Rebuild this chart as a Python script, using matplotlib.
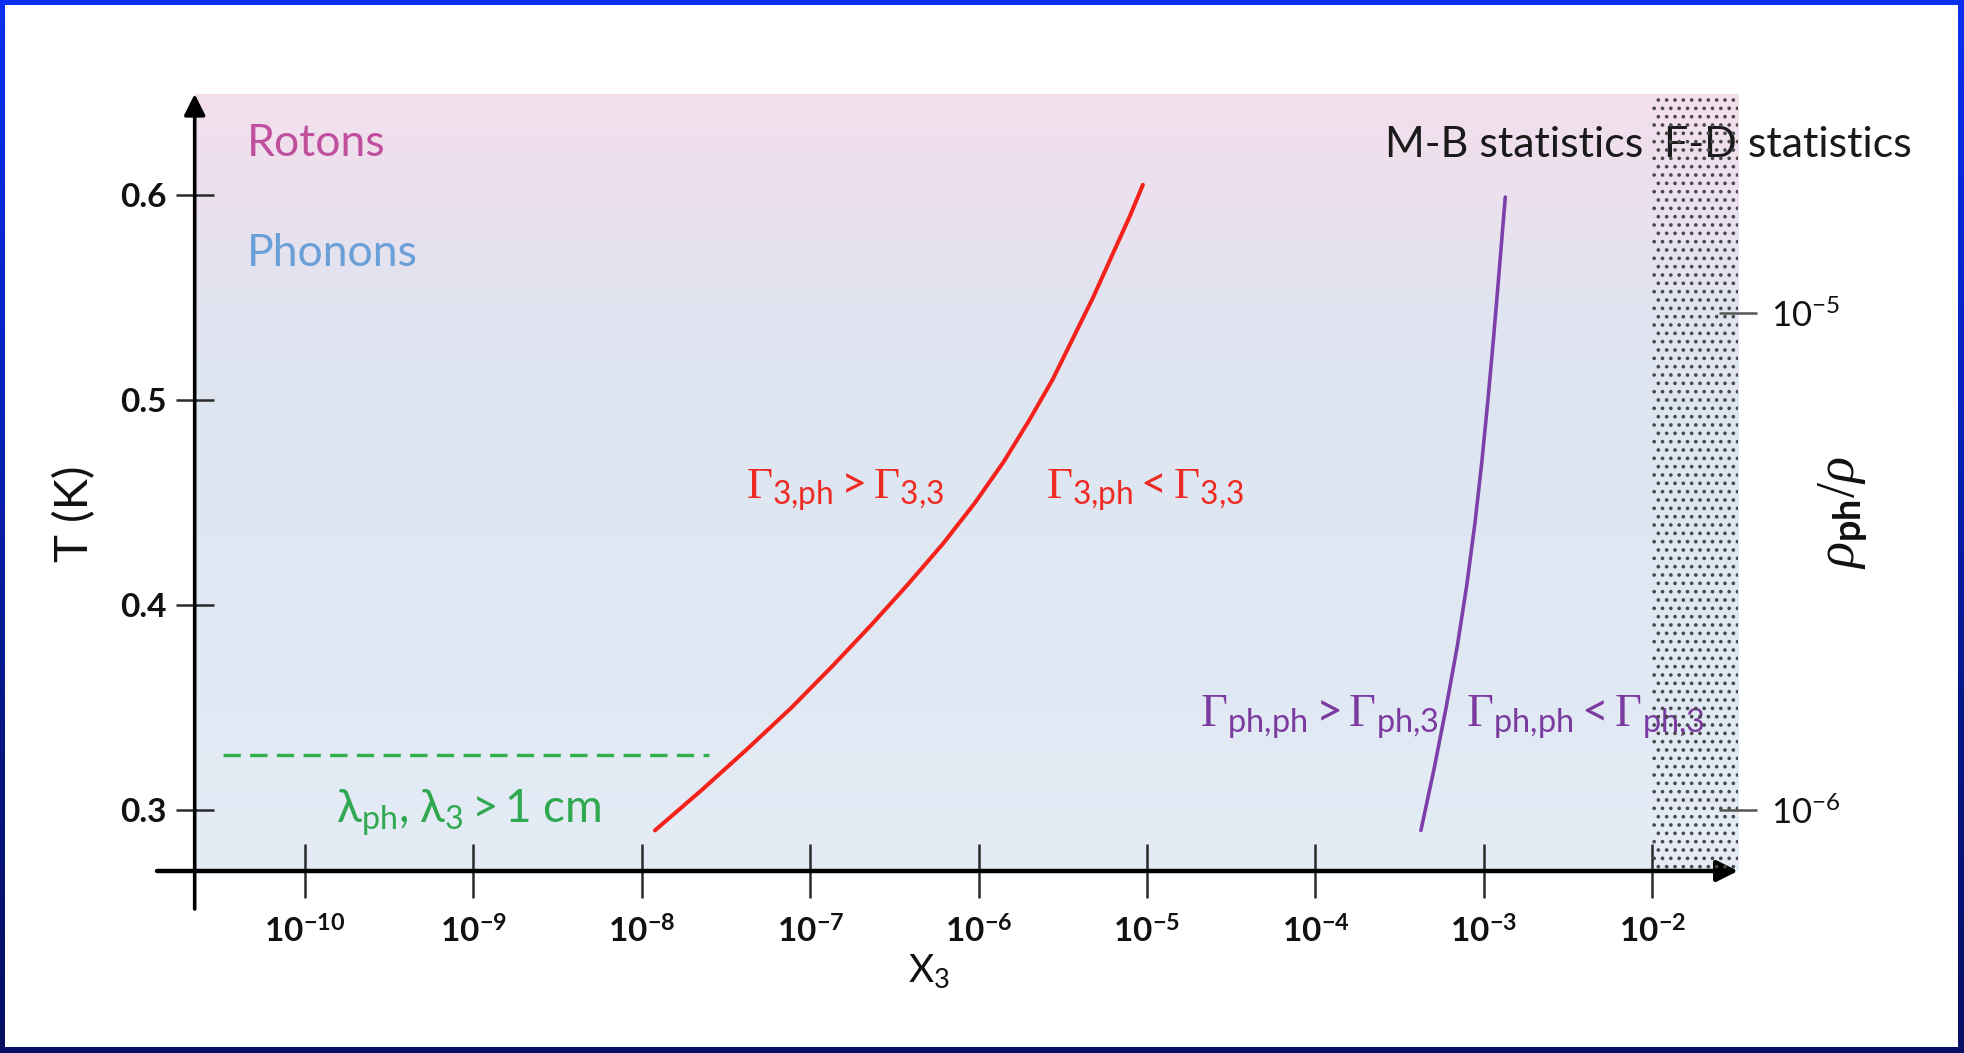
import numpy as np
import matplotlib
matplotlib.use("Agg")
import matplotlib.pyplot as plt
from matplotlib.colors import LinearSegmentedColormap
from matplotlib.patches import Rectangle
from matplotlib.ticker import NullLocator

plt.rcParams['font.family'] = ['Lato', 'DejaVu Sans']
plt.rcParams['mathtext.fontset'] = 'custom'
plt.rcParams['mathtext.rm'] = 'Liberation Serif'
plt.rcParams['mathtext.it'] = 'Liberation Serif:italic'
plt.rcParams['mathtext.bf'] = 'Lato:bold'
plt.rcParams['mathtext.sf'] = 'Lato'
plt.rcParams['mathtext.fallback'] = 'stixsans'
plt.rcParams['hatch.linewidth'] = 1.4

# ---- axis ticks ----
x3_ticks = [1e-10, 1e-9, 1e-8, 1e-7, 1e-6, 1e-5, 1e-4, 1e-3, 1e-2]
x3_ticklabels = [r'$\mathbf{10^{-10}}$', r'$\mathbf{10^{-9}}$', r'$\mathbf{10^{-8}}$',
                 r'$\mathbf{10^{-7}}$', r'$\mathbf{10^{-6}}$', r'$\mathbf{10^{-5}}$',
                 r'$\mathbf{10^{-4}}$', r'$\mathbf{10^{-3}}$', r'$\mathbf{10^{-2}}$']
T_ticks = [0.3, 0.4, 0.5, 0.6]
T_ticklabels = ['0.3', '0.4', '0.5', '0.6']
rho_ticks = [1e-6, 1e-5]
rho_ticklabels = [r'$\mathsf{10^{-6}}$', r'$\mathsf{10^{-5}}$']

# ---- boundary Gamma_3,ph = Gamma_3,3 ----
red_x3 = [1.197e-8, 2.291e-8, 4.266e-8, 7.762e-8, 1.349e-7, 2.291e-7, 3.802e-7,
          6.166e-7, 9.55e-7, 1.413e-6, 1.995e-6, 2.754e-6, 3.631e-6, 4.786e-6,
          6.166e-6, 7.943e-6, 9.46e-6]
red_T = [0.290, 0.310, 0.330, 0.350, 0.370, 0.390, 0.410, 0.430, 0.450, 0.470,
         0.490, 0.510, 0.530, 0.550, 0.570, 0.590, 0.605]

# ---- boundary Gamma_ph,ph = Gamma_ph,3 ----
purple_x3 = [4.236e-4, 5.07e-4, 5.98e-4, 6.97e-4, 7.94e-4, 8.87e-4, 9.75e-4,
             1.059e-3, 1.143e-3, 1.227e-3, 1.315e-3, 1.343e-3]
purple_T = [0.290, 0.320, 0.350, 0.380, 0.410, 0.440, 0.470, 0.500, 0.530,
            0.560, 0.590, 0.599]

# ---- mean free path limit ----
green_x3 = [3.26e-11, 2.51e-8]
green_T = [0.327, 0.327]

# ---- Fermi-Dirac region ----
fd_x3_start = 1e-2

XLIM = (10 ** -10.655, 10 ** -1.49)
YLIM = (0.2702, 0.6493)
RHOLIM = (10 ** -6.1227, 10 ** -4.5594)

W, H = 1965, 1053
fig = plt.figure(figsize=(W / 100, H / 100), dpi=100)


def fx(x):
    return x / W


def fy(y):
    return 1 - y / H


# blue frame
frame = fig.add_axes([0, 0, 1, 1], zorder=-3)
frame.axis('off')
frame_cmap = LinearSegmentedColormap.from_list(
    'frame', ['#0a30f2', '#0624c4', '#061888', '#060f62'])
frame.imshow(np.linspace(0, 1, 256).reshape(-1, 1), cmap=frame_cmap,
             aspect='auto', extent=[0, 1, 0, 1], origin='upper')
frame.add_patch(Rectangle((5 / W, 6 / H), (W - 12) / W, (H - 11) / H,
                          facecolor='white', edgecolor='none'))
frame.set_xlim(0, 1)
frame.set_ylim(0, 1)

pos = [fx(194.7), fy(871), fx(1738) - fx(194.7), (871 - 94) / H]

# shaded plot background
bg = fig.add_axes(pos, zorder=-2)
bg.axis('off')
bg_cmap = LinearSegmentedColormap.from_list(
    'bg', [(0.0, '#f3dfeb'), (0.12, '#ece0ee'), (0.28, '#e0e4f0'),
           (0.45, '#dde6f1'), (0.7, '#dfe8f3'), (1.0, '#e5ecf6')])
bg.imshow(np.linspace(0, 1, 256).reshape(-1, 1), cmap=bg_cmap,
          aspect='auto', extent=[0, 1, 0, 1], origin='upper')
bg.set_xlim(0, 1)
bg.set_ylim(0, 1)

ax = fig.add_axes(pos, zorder=0)
ax.patch.set_visible(False)
ax.set_xscale('log')
ax.set_xlim(*XLIM)
ax.set_ylim(*YLIM)
for s in ax.spines.values():
    s.set_visible(False)

ax.set_xticks(x3_ticks)
ax.set_xticklabels(x3_ticklabels)
ax.xaxis.set_minor_locator(NullLocator())
ax.set_yticks(T_ticks)
ax.set_yticklabels(T_ticklabels, fontweight='bold')
ax.tick_params(axis='x', direction='inout', length=39, width=1.8,
               color='#2a2a2a', pad=13, labelsize=24, labelcolor='#111111')
ax.tick_params(axis='y', direction='inout', length=28, width=1.8,
               color='#2a2a2a', pad=6, labelsize=24, labelcolor='#111111')

# axis arrows
arrow_kw = dict(arrowstyle='-|>', color='black', mutation_scale=32,
                shrinkA=0, shrinkB=0)
ax.annotate('', xy=(0, 1.0), xycoords='axes fraction',
            xytext=(0, -0.0489), textcoords='axes fraction',
            arrowprops=dict(lw=2.6, **arrow_kw), annotation_clip=False)
ax.annotate('', xy=(1.0, 0), xycoords='axes fraction',
            xytext=(-0.0244, 0), textcoords='axes fraction',
            arrowprops=dict(lw=3.2, **arrow_kw), annotation_clip=False)

# curves
ax.plot(red_x3, red_T, color='#f4221b', lw=2.9, solid_capstyle='round',
        solid_joinstyle='round', zorder=3)
ax.plot(purple_x3, purple_T, color='#7d3fa9', lw=2.6, solid_capstyle='round',
        solid_joinstyle='round', zorder=3)
ax.plot(green_x3, green_T, color='#2fb04c', lw=2.4, ls=(0, (5.2, 2.8)), zorder=3)

# Fermi-Dirac hatched band
ax.axvspan(fd_x3_start, XLIM[1], facecolor='none', edgecolor='#484848',
           hatch='..', linewidth=0, zorder=5)

tf = fig.transFigure
ax.text(fx(247), fy(156), 'Rotons', transform=tf, fontsize=32,
        color='#c0509e', ha='left', va='baseline')
ax.text(fx(247), fy(266), 'Phonons', transform=tf, fontsize=32,
        color='#6a9fd8', ha='left', va='baseline')
ax.text(fx(1385), fy(157), 'M-B statistics', transform=tf, fontsize=31,
        color='#1a1a1a', ha='left', va='baseline')
ax.text(fx(1664), fy(157), 'F-D statistics', transform=tf, fontsize=31,
        color='#1a1a1a', ha='left', va='baseline')

red_txt = '#ef2a22'
ax.text(fx(746), fy(499), r'$\Gamma_{\mathsf{3{,}ph}}\mathsf{>}\Gamma_{\mathsf{3{,}3}}$',
        transform=tf, fontsize=32.5, color=red_txt, ha='left', va='baseline')
ax.text(fx(1046), fy(499), r'$\Gamma_{\mathsf{3{,}ph}}\mathsf{<}\Gamma_{\mathsf{3{,}3}}$',
        transform=tf, fontsize=32.5, color=red_txt, ha='left', va='baseline')

purple_txt = '#7b3a9f'
ax.text(fx(1200), fy(727), r'$\Gamma_{\mathsf{ph{,}ph}}\mathsf{>}\Gamma_{\mathsf{ph{,}3}}$',
        transform=tf, fontsize=33.5, color=purple_txt, ha='left', va='baseline')
ax.text(fx(1466), fy(727), r'$\Gamma_{\mathsf{ph{,}ph}}\mathsf{<}\Gamma_{\mathsf{ph{,}3}}$',
        transform=tf, fontsize=33.5, color=purple_txt, ha='left', va='baseline')

ax.text(fx(336), fy(823), r'$\mathsf{\lambda_{ph}{,}\ \lambda_{3} > 1\ cm}$',
        transform=tf, fontsize=33, color='#30a850', ha='left', va='baseline')

# axis titles
fig.text(fx(75), fy(514), 'T (K)', fontsize=34, rotation=90,
         ha='center', va='center', color='#111111')
fig.text(fx(908), fy(982), r'$\mathsf{X_3}$', fontsize=28,
         ha='left', va='baseline', color='#111111')
fig.text(fx(1843), fy(513), r'$\rho_{\mathbf{ph}}/\rho$', fontsize=39, rotation=90,
         ha='center', va='center', color='#111111')

# right-hand density ratio scale
ax2 = ax.twinx()
ax2.set_yscale('log')
ax2.set_ylim(*RHOLIM)
ax2.set_yticks(rho_ticks)
ax2.set_yticklabels(rho_ticklabels)
ax2.yaxis.set_minor_locator(NullLocator())
for s in ax2.spines.values():
    s.set_visible(False)
ax2.tick_params(axis='y', direction='inout', length=27, width=1.8,
                color='#555555', pad=10, labelsize=25, labelcolor='#111111')

fig.savefig('out.png', dpi=100)
